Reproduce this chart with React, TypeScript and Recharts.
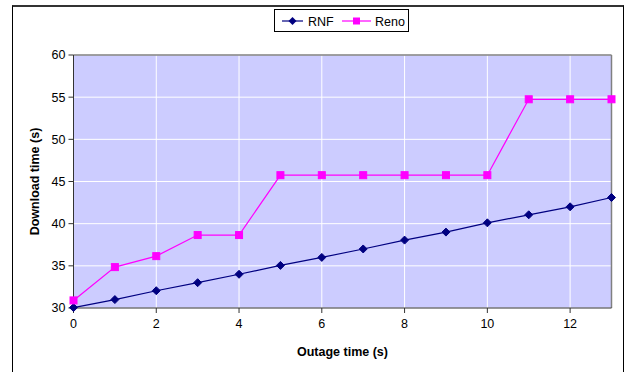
import React from "react";
import {
  LineChart,
  Line,
  XAxis,
  YAxis,
  CartesianGrid,
  ReferenceLine,
} from "recharts";

const outageTimes = [0, 1, 2, 3, 4, 5, 6, 7, 8, 9, 10, 11, 12, 13];
const rnfValues = [30.05, 31.0, 32.05, 33.0, 34.0, 35.05, 36.0, 37.0, 38.05, 39.0, 40.1, 41.05, 42.0, 43.1];
const renoValues = [30.9, 34.85, 36.15, 38.65, 38.65, 45.75, 45.75, 45.75, 45.75, 45.75, 45.75, 54.75, 54.75, 54.75];
const xTicks = [0, 2, 4, 6, 8, 10, 12];
const yTicks = [30, 35, 40, 45, 50, 55, 60];

const data = outageTimes.map((t, i) => ({ t, RNF: rnfValues[i], Reno: renoValues[i] }));

const FONT = "'Liberation Sans', Arial, sans-serif";

const Diamond = (props: any) => {
  const { cx, cy } = props;
  if (cx == null || cy == null) return null;
  const r = 4;
  return (
    <polygon
      points={`${cx},${cy - r} ${cx + r},${cy} ${cx},${cy + r} ${cx - r},${cy}`}
      fill="#000080"
      stroke="#000080"
      strokeWidth={1}
    />
  );
};

const Square = (props: any) => {
  const { cx, cy } = props;
  if (cx == null || cy == null) return null;
  const s = 3.5;
  return <rect x={cx - s} y={cy - s} width={2 * s} height={2 * s} fill="#FF00FF" stroke="#FF00FF" />;
};

const LegendBox = () => (
  <div
    style={{
      position: "absolute",
      left: 274,
      top: 9,
      width: 133,
      height: 21,
      border: "1px solid #000",
      background: "#fff",
      fontFamily: FONT,
      fontSize: 12,
    }}
  >
    <svg width={133} height={21} style={{ position: "absolute", left: 0, top: 0 }}>
      <line x1={7} y1={11} x2={28} y2={11} stroke="#000080" strokeWidth={1.2} />
      <polygon points="17.5,7 21.5,11 17.5,15 13.5,11" fill="#000080" />
      <text x={33} y={15.5} fontFamily={FONT} fontSize={12.5} fill="#000">RNF</text>
      <line x1={67} y1={11} x2={96} y2={11} stroke="#FF00FF" strokeWidth={1.2} />
      <rect x={78} y={7.5} width={7} height={7} fill="#FF00FF" />
      <text x={100} y={15.5} fontFamily={FONT} fontSize={12.5} fill="#000">Reno</text>
    </svg>
  </div>
);

export default function App() {
  return (
    <div style={{ position: "absolute", left: 0, top: 0, width: 630, height: 372, background: "#fff", overflow: "hidden" }}>
      <div
        style={{
          position: "absolute",
          left: 12,
          top: 5,
          width: 612,
          height: 400,
          borderLeft: "1px solid #000",
          borderRight: "1px solid #000",
          borderTop: "2px solid #333",
          boxSizing: "border-box",
        }}
      />
      <LineChart
        width={630}
        height={372}
        data={data}
        margin={{ top: 55, right: 18.5, bottom: 34, left: 0 }}
        style={{ position: "absolute", left: 0, top: 0 }}
      >
        <CartesianGrid
          fill="#CCCCFF"
          fillOpacity={1}
          stroke="#FFFFFF"
          strokeWidth={1}
        />
        <XAxis
          dataKey="t"
          type="number"
          domain={[0, 13]}
          ticks={xTicks}
          height={30}
          stroke="#333"
          tickLine={{ stroke: "#333" }}
          tickSize={5}
          tick={{ fill: "#000", fontFamily: FONT, fontSize: 12.5 }}
          tickMargin={6}
          label={{
            value: "Outage time (s)",
            position: "insideBottom",
            offset: -18,
            style: { fill: "#000", fontFamily: FONT, fontSize: 12.5, fontWeight: "bold" },
          }}
        />
        <YAxis
          type="number"
          domain={[30, 60]}
          ticks={yTicks}
          width={73.5}
          stroke="#333"
          tickLine={{ stroke: "#333" }}
          tickSize={5}
          tickMargin={3}
          tick={{ fill: "#000", fontFamily: FONT, fontSize: 12.5 }}
          label={{
            value: "Download time (s)",
            angle: -90,
            position: "insideLeft",
            offset: 0,
            dx: 35,
            style: { fill: "#000", fontFamily: FONT, fontSize: 12.5, fontWeight: "bold", textAnchor: "middle" },
          }}
        />
        <ReferenceLine y={60} stroke="#808080" strokeWidth={1.5} />
        <ReferenceLine x={13} stroke="#808080" strokeWidth={1.5} />
        <Line
          dataKey="RNF"
          stroke="#000080"
          strokeWidth={1.2}
          dot={<Diamond />}
          activeDot={false}
          isAnimationActive={false}
        />
        <Line
          dataKey="Reno"
          stroke="#FF00FF"
          strokeWidth={1.2}
          dot={<Square />}
          activeDot={false}
          isAnimationActive={false}
        />
      </LineChart>
      <LegendBox />
    </div>
  );
}
